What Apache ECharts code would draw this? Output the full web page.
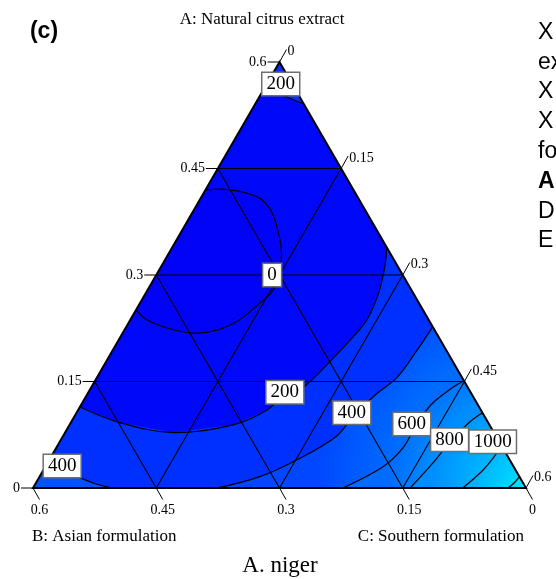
<!DOCTYPE html>
<html><head><meta charset="utf-8">
<script src="https://cdn.jsdelivr.net/npm/echarts@6/dist/echarts.min.js"></script>
<style>html,body{margin:0;padding:0;background:#fff}#c{width:556px;height:579px}</style>
</head><body><div id="c"></div>
<script>
// ---------- data (mixture compositions [A, B, C], A+B+C = 0.6) ----------
const tickValues = [0, 0.15, 0.3, 0.45, 0.6];
const tickLabels = ['0', '0.15', '0.3', '0.45', '0.6'];
const gridValues = [0.15, 0.3, 0.45];

const contourLevels = [0, 200, 200, 400, 400, 600, 800, 1000, 1200];
const c0 = [[0.420,0.180,0.000],[0.420,0.150,0.030],[0.410,0.122,0.068],[0.392,0.115,0.093],[0.361,0.121,0.118],[0.331,0.132,0.137],[0.304,0.148,0.148],[0.279,0.168,0.153],[0.255,0.202,0.143],[0.237,0.230,0.133],[0.223,0.263,0.114],[0.218,0.296,0.086],[0.225,0.323,0.052],[0.237,0.343,0.020],[0.251,0.349,0.000]];
const c200apex = [[0.554,0.046,0.000],[0.555,0.034,0.011],[0.554,0.022,0.024],[0.549,0.013,0.038],[0.541,0.000,0.059]];
const c200 = [[0.114,0.486,0.000],[0.092,0.448,0.060],[0.078,0.390,0.132],[0.089,0.312,0.199],[0.110,0.260,0.230],[0.132,0.227,0.241],[0.142,0.200,0.258],[0.183,0.143,0.274],[0.216,0.100,0.284],[0.237,0.075,0.288],[0.272,0.044,0.284],[0.304,0.021,0.275],[0.328,0.006,0.266],[0.340,0.000,0.260]];
const c400corner = [[0.034,0.566,0.000],[0.016,0.538,0.046],[0.006,0.521,0.073],[0.000,0.504,0.096]];
const c400 = [[0.000,0.376,0.224],[0.016,0.316,0.268],[0.042,0.254,0.304],[0.073,0.194,0.333],[0.099,0.162,0.339],[0.131,0.118,0.351],[0.155,0.080,0.365],[0.190,0.040,0.370],[0.227,0.000,0.373]];
const c600 = [[0.000,0.223,0.377],[0.030,0.159,0.411],[0.056,0.122,0.422],[0.089,0.089,0.422],[0.118,0.056,0.426],[0.139,0.023,0.438],[0.151,0.000,0.449]];
const c800 = [[0.000,0.141,0.459],[0.035,0.096,0.469],[0.065,0.060,0.475],[0.093,0.022,0.485],[0.106,0.000,0.494]];
const c1000 = [[0.000,0.077,0.523],[0.025,0.040,0.535],[0.049,0.011,0.540],[0.059,0.000,0.541]];
const c1200 = [[0.000,0.022,0.578],[0.007,0.011,0.582],[0.016,0.000,0.584]];
const contourLines = [c0, c200apex, c200, c400corner, c400, c600, c800, c1000, c1200];
// which simplex vertices close each region, and which side of the level it encloses
const contourCloseVia = [[], ['A'], ['C','B'], ['B'], ['C'], ['C'], ['C'], ['C'], ['C']];
const contourEncloses = ['low','high','high','high','high','high','high','high','high'];

const labelTexts = ['200', '0', '200', '400', '600', '800', '1000', '400'];
const labelPositions = [[0.569,0.014,0.017],[0.300,0.159,0.141],[0.135,0.226,0.239],[0.106,0.159,0.335],[0.090,0.094,0.416],[0.068,0.059,0.473],[0.065,0.008,0.527],[0.031,0.549,0.020]];

// ---------- helpers ----------
const TOTAL = 0.6;
const S3 = Math.sqrt(3) / 2;
const VERTEX = { A: [TOTAL, 0, 0], B: [0, TOTAL, 0], C: [0, 0, TOTAL] };
function toXY(p) { return [p[2] + p[0] / 2, p[0] * S3]; }
function levelColor(v) {
  const g = Math.max(0, Math.min(255, Math.round(v * 0.178)));
  return 'rgb(0,' + g + ',255)';
}
const SERIF = '"Liberation Serif", "Times New Roman", serif';
const SANS = '"Liberation Sans", Arial, sans-serif';

function renderAll(params, api) {
  const P = p => api.coord(toXY(p));
  const corner = P(VERTEX.C);
  const avgDist = line => {
    let s = 0;
    line.forEach(p => { const q = P(p); s += Math.hypot(q[0] - corner[0], q[1] - corner[1]); });
    return s / line.length;
  };
  const ch = [];
  // base fill
  ch.push({ type: 'polygon', shape: { points: [P(VERTEX.A), P(VERTEX.B), P(VERTEX.C)] }, style: { fill: 'rgb(0,8,250)' } });
  // level regions
  contourLines.forEach((line, i) => {
    const pts = line.map(P).concat(contourCloseVia[i].map(v => P(VERTEX[v])));
    const L = contourLevels[i];
    let fill;
    if (contourEncloses[i] === 'low') {
      fill = 'rgb(0,3,248)';
    } else if (L >= 400 && contourCloseVia[i].indexOf('C') >= 0) {
      const dL = avgDist(line);
      let j = -1;
      contourLines.forEach((l2, k) => {
        if (contourLevels[k] === L + 200 && contourCloseVia[k].indexOf('C') >= 0) j = k;
      });
      const stops = j >= 0
        ? [{ offset: 0, color: levelColor(L + 200) }, { offset: Math.min(0.98, avgDist(contourLines[j]) / dL), color: levelColor(L + 200) }, { offset: 1, color: levelColor(L) }]
        : [{ offset: 0, color: levelColor(L + 120) }, { offset: 1, color: levelColor(L) }];
      fill = new echarts.graphic.RadialGradient(corner[0], corner[1], dL, stops, true);
    } else {
      fill = levelColor(L + 70);
    }
    ch.push({ type: 'polygon', shape: { points: pts }, style: { fill: fill } });
  });
  // grid lines
  const gl = { stroke: '#000', lineWidth: 1.1, fill: null };
  gridValues.forEach(v => {
    const segs = [
      [[v, TOTAL - v, 0], [v, 0, TOTAL - v]],
      [[TOTAL - v, v, 0], [0, v, TOTAL - v]],
      [[TOTAL - v, 0, v], [0, TOTAL - v, v]]
    ];
    segs.forEach(s => {
      const a = P(s[0]), b = P(s[1]);
      ch.push({ type: 'line', shape: { x1: a[0], y1: a[1], x2: b[0], y2: b[1] }, style: gl });
    });
  });
  // contour lines
  contourLines.forEach(line => {
    ch.push({ type: 'polyline', shape: { points: line.map(P), smooth: 0.35 }, style: { stroke: '#000', lineWidth: 1.2, fill: null } });
  });
  // outline
  ch.push({ type: 'polygon', shape: { points: [P(VERTEX.A), P(VERTEX.B), P(VERTEX.C)] }, style: { stroke: '#000', lineWidth: 2, fill: null } });
  // ticks + labels
  const tl = { stroke: '#000', lineWidth: 1 };
  const tickFont = '14px ' + SERIF;
  tickValues.forEach((t, i) => {
    // A (left side)
    let p = P([t, TOTAL - t, 0]);
    ch.push({ type: 'line', shape: { x1: p[0], y1: p[1], x2: p[0] - 12, y2: p[1] }, style: tl });
    ch.push({ type: 'text', x: p[0] - 13, y: p[1], style: { text: tickLabels[i], font: tickFont, fill: '#000', align: 'right', verticalAlign: 'middle' } });
    // B (bottom)
    p = P([0, t, TOTAL - t]);
    let e = [p[0] + 6.5, p[1] + 11.5];
    ch.push({ type: 'line', shape: { x1: p[0], y1: p[1], x2: e[0], y2: e[1] }, style: tl });
    ch.push({ type: 'text', x: e[0], y: e[1] + 4, style: { text: tickLabels[i], font: tickFont, fill: '#000', align: 'center', verticalAlign: 'top' } });
    // C (right side)
    p = P([TOTAL - t, 0, t]);
    e = [p[0] + 7, p[1] - 12.5];
    ch.push({ type: 'line', shape: { x1: p[0], y1: p[1], x2: e[0], y2: e[1] }, style: tl });
    ch.push({ type: 'text', x: e[0] + 1, y: e[1] + 2, style: { text: tickLabels[i], font: tickFont, fill: '#000', align: 'left', verticalAlign: 'middle' } });
  });
  // contour labels
  labelTexts.forEach((t, i) => {
    const p = P(labelPositions[i]);
    ch.push({ type: 'text', x: p[0], y: p[1], style: {
      text: t, font: '19px ' + SERIF, fill: '#000', align: 'center', verticalAlign: 'middle',
      backgroundColor: '#fff', borderColor: '#6e6e6e', borderWidth: 1.5, padding: [2, 4, 1, 4]
    } });
  });
  return { type: 'group', children: ch };
}

const chart = echarts.init(document.getElementById('c'), null, { renderer: 'canvas' });
chart.setOption({
  animation: false,
  backgroundColor: '#fff',
  grid: { left: 33, right: 30, top: 62, bottom: 91 },
  xAxis: { type: 'value', min: 0, max: TOTAL, show: false },
  yAxis: { type: 'value', min: 0, max: TOTAL * S3, show: false },
  series: [{
    type: 'custom', coordinateSystem: 'cartesian2d', silent: true, clip: false,
    data: [[0, 0]], renderItem: renderAll
  }],
  graphic: [
    { type: 'text', x: 44, y: 32, style: { text: '(c)', font: 'bold 23px ' + SANS, fill: '#000', align: 'center', verticalAlign: 'middle' } },
    { type: 'text', x: 262, y: 20, style: { text: 'A: Natural citrus extract', font: '17px ' + SERIF, fill: '#000', align: 'center', verticalAlign: 'middle' } },
    { type: 'text', x: 32, y: 537, style: { text: 'B: Asian formulation', font: '17px ' + SERIF, fill: '#000', align: 'left', verticalAlign: 'middle' } },
    { type: 'text', x: 524, y: 537, style: { text: 'C: Southern formulation', font: '17px ' + SERIF, fill: '#000', align: 'right', verticalAlign: 'middle' } },
    { type: 'text', x: 280, y: 566, style: { text: 'A. niger', font: '23px ' + SERIF, fill: '#000', align: 'center', verticalAlign: 'middle' } },
    { type: 'text', x: 538, y: 33, style: { text: 'X', font: '23px ' + SANS, fill: '#000', verticalAlign: 'middle' } },
    { type: 'text', x: 538, y: 63, style: { text: 'ex', font: '23px ' + SANS, fill: '#000', verticalAlign: 'middle' } },
    { type: 'text', x: 538, y: 92, style: { text: 'X', font: '23px ' + SANS, fill: '#000', verticalAlign: 'middle' } },
    { type: 'text', x: 538, y: 122, style: { text: 'X', font: '23px ' + SANS, fill: '#000', verticalAlign: 'middle' } },
    { type: 'text', x: 538, y: 152, style: { text: 'fo', font: '23px ' + SANS, fill: '#000', verticalAlign: 'middle' } },
    { type: 'text', x: 538, y: 182, style: { text: 'A', font: 'bold 23px ' + SANS, fill: '#000', verticalAlign: 'middle' } },
    { type: 'text', x: 538, y: 212, style: { text: 'D', font: '23px ' + SANS, fill: '#000', verticalAlign: 'middle' } },
    { type: 'text', x: 538, y: 241, style: { text: 'E', font: '23px ' + SANS, fill: '#000', verticalAlign: 'middle' } }
  ]
});
</script></body></html>
